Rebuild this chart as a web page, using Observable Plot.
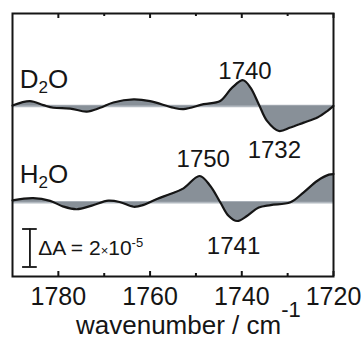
<!DOCTYPE html>
<html><head><meta charset="utf-8">
<script src="https://cdn.jsdelivr.net/npm/d3@7"></script>
<script src="https://cdn.jsdelivr.net/npm/@observablehq/plot@0.6"></script>
<style>body{margin:0;background:#fff;} svg{display:block;}</style>
</head><body><div id="chart"></div>
<script>
// Wavenumbers (cm^-1) and difference absorbance (units of 1e-5)
const wavenumberD2O = [1790, 1786.2, 1783.3, 1781.1, 1777.4, 1773.8, 1770.9, 1768.0, 1763.6, 1760.0, 1754.9, 1752.7, 1748.3, 1744.7, 1742.1, 1739.7, 1738.1, 1736.3, 1734.5, 1731.9, 1729.4, 1726.5, 1723.5, 1721.3, 1720];
const deltaD2O      = [0.02, 0.25, 0.04, -0.10, -0.14, -0.30, -0.10, 0.18, 0.34, 0.25, -0.10, -0.17, 0.09, 0.26, 0.96, 1.35, 0.96, 0.09, -0.79, -1.32, -1.14, -0.88, -0.61, -0.26, 0];
const wavenumberH2O = [1790, 1785.5, 1781.8, 1778.9, 1776.0, 1772.7, 1769.1, 1766.5, 1763.6, 1761.4, 1758.5, 1755.6, 1752.7, 1749.2, 1746.9, 1744.7, 1742.9, 1741.0, 1738.8, 1736.3, 1733.7, 1729.4, 1726.5, 1723.5, 1721.0, 1720];
const deltaH2O      = [0.10, 0.21, 0.07, -0.23, -0.37, -0.18, 0.08, 0, -0.24, -0.14, 0.17, 0.43, 0.73, 1.38, 0.87, 0, -0.71, -0.99, -0.71, -0.28, -0.15, 0, 0.52, 1.13, 1.45, 1.48];
// vertical offsets of the two traces (same units)
const offsetD2O = 8.98;
const offsetH2O = 3.91;
const majorTicks = [1780, 1760, 1740, 1720];
const minorTicks = [1770, 1750, 1730];
const peakLabels = ["1740", "1732", "1750", "1741"];
const peakWavenumbers = [1739.3, 1732.9, 1748.4, 1741.8];
const peakLevels = [10.42, 6.26, 5.74, 1.21];
const scaleBarWavenumber = 1786.2;
const scaleBarFrom = 0.5, scaleBarSize = 2; // ΔA = 2×10^-5

const d2o = wavenumberD2O.map((w, i) => ({w, base: offsetD2O, v: offsetD2O + deltaD2O[i]}));
const h2o = wavenumberH2O.map((w, i) => ({w, base: offsetH2O, v: offsetH2O + deltaH2O[i]}));
const peaks = peakLabels.map((t, i) => ({t, w: peakWavenumbers[i], y: peakLevels[i]}));

const W = 361, H = 345, mT = 13, mB = 69, mL = 12, mR = 28;
const plotH = H - mT - mB;
const font = "Liberation Sans, Arial, Helvetica, sans-serif";
const fillC = "#889098", baseC = "#b2b9c0", ink = "#151515";

const chart = Plot.plot({
  width: W, height: H,
  marginTop: mT, marginBottom: mB, marginLeft: mL, marginRight: mR,
  style: {fontFamily: font, background: "white", color: ink},
  x: {domain: [1790, 1720], axis: null},
  y: {domain: [0, plotH / 19], axis: null},
  marks: [
    Plot.ruleY([offsetD2O, offsetH2O], {stroke: baseC, strokeWidth: 2.5}),
    Plot.areaY(d2o, {x: "w", y1: "base", y2: "v", fill: fillC, curve: "catmull-rom"}),
    Plot.areaY(h2o, {x: "w", y1: "base", y2: "v", fill: fillC, curve: "catmull-rom"}),
    Plot.line(d2o, {x: "w", y: "v", stroke: ink, strokeWidth: 2.2, curve: "catmull-rom"}),
    Plot.line(h2o, {x: "w", y: "v", stroke: ink, strokeWidth: 2.2, curve: "catmull-rom"}),
    Plot.ruleX(majorTicks, {stroke: ink, strokeWidth: 2, insetTop: plotH - 5}),
    Plot.ruleX(majorTicks, {stroke: ink, strokeWidth: 2, insetBottom: plotH - 5}),
    Plot.ruleX(minorTicks, {stroke: ink, strokeWidth: 2, insetTop: plotH - 3}),
    Plot.ruleX(minorTicks, {stroke: ink, strokeWidth: 2, insetBottom: plotH - 3}),
    Plot.ruleX([scaleBarWavenumber], {y1: scaleBarFrom, y2: scaleBarFrom + scaleBarSize, stroke: ink, strokeWidth: 1.8}),
    Plot.ruleY([scaleBarFrom, scaleBarFrom + scaleBarSize], {x1: scaleBarWavenumber + 1.6, x2: scaleBarWavenumber - 1.6, stroke: ink, strokeWidth: 1.8}),
    Plot.text(peaks, {x: "w", y: "y", text: "t", fontSize: 24, lineAnchor: "bottom", textAnchor: "middle", fill: ink}),
    Plot.axisX(majorTicks, {anchor: "bottom", tickSize: 0, tickPadding: 11, fontSize: 25, tickFormat: d => String(d), label: null, fill: ink}),
    Plot.frame({stroke: ink, strokeWidth: 2})
  ]
});
document.getElementById("chart").append(chart);

const svg = d3.select(chart);
const xs = chart.scale("x"), ys = chart.scale("y");
function rich(x, y, parts, size) {
  const t = svg.append("text").attr("x", x).attr("y", y)
    .attr("text-anchor", "start")
    .attr("font-family", font).attr("font-size", size).attr("fill", ink);
  let shift = 0;
  for (const p of parts) {
    const s = t.append("tspan").text(p.t);
    if (p.size) s.attr("font-size", p.size);
    const want = p.dy || 0;
    if (want !== shift) { s.attr("dy", want - shift); shift = want; }
  }
  return t;
}
// trace labels
rich(xs.apply(1788.3), ys.apply(9.88), [{t: "D"}, {t: "2", size: 17, dy: 5}, {t: "O"}], 26);
rich(xs.apply(1788.3), ys.apply(4.88), [{t: "H"}, {t: "2", size: 17, dy: 5}, {t: "O"}], 26);
// scale bar label
rich(xs.apply(1784.3), ys.apply(1.1), [{t: "ΔA = 2"}, {t: "×", size: 13}, {t: "10"}, {t: "-5", size: 13, dy: -8}], 21);
// x axis label
rich(76, 334, [{t: "wavenumber / cm"}, {t: "-1", size: 22, dy: -17}], 26);
</script></body></html>
